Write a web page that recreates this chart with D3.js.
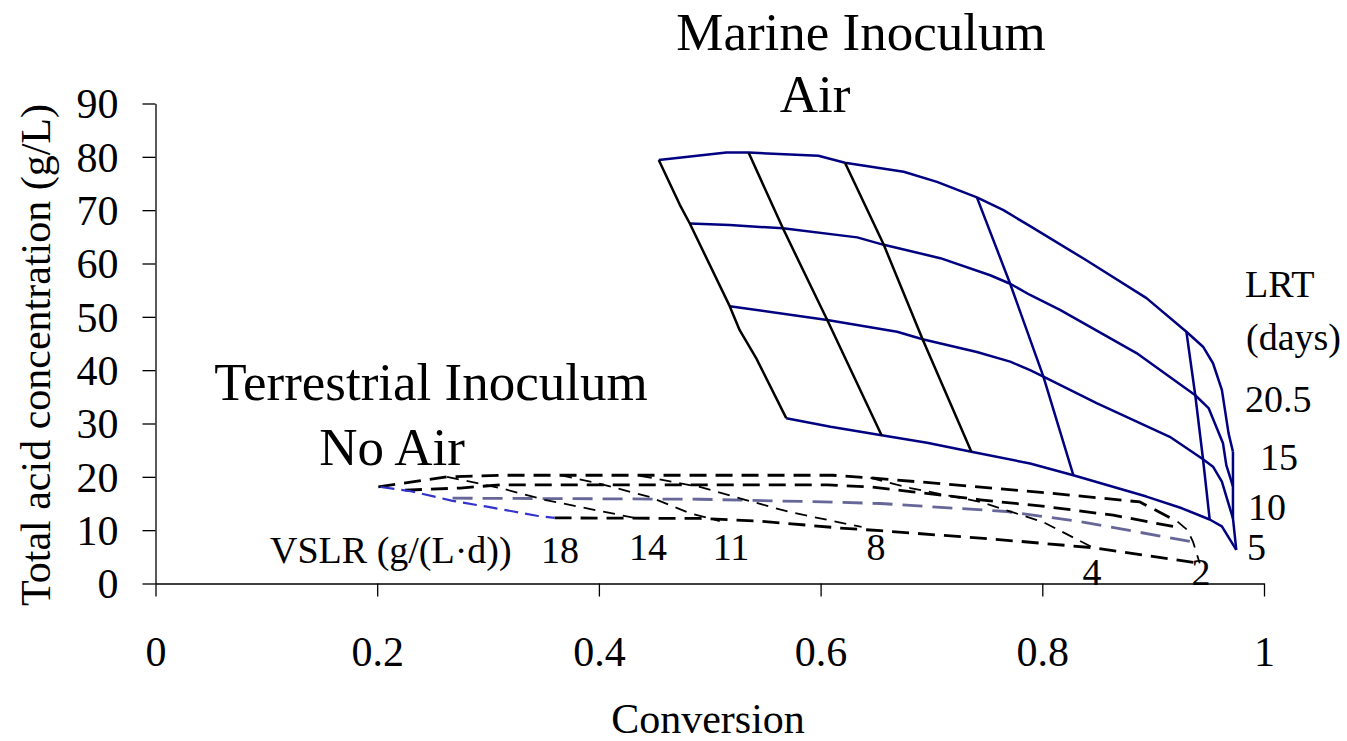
<!DOCTYPE html>
<html>
<head>
<meta charset="utf-8">
<script src="https://cdn.jsdelivr.net/npm/d3@7/dist/d3.min.js"></script>
<style>
  html, body { margin: 0; padding: 0; background: #fff; }
  svg text { font-family: "Liberation Serif", "Times New Roman", serif; fill: #000; }
</style>
</head>
<body>
<svg id="chart" width="1347" height="741"></svg>
<script>
// ---------- tick labels ----------
const xTicks = [0, 0.2, 0.4, 0.6, 0.8, 1];
const yTicks = [0, 10, 20, 30, 40, 50, 60, 70, 80, 90];

// ---------- Marine inoculum, air: constant-LRT lines [conversion, acid g/L] ----------
const marineLRT205 = [[0.454,79.4],[0.515,80.8],[0.535,80.8],[0.598,80.2],[0.622,78.9],[0.675,77.2],[0.705,75.3],[0.741,72.4],[0.765,70.0],[0.789,67.0],[0.839,60.7],[0.894,53.5],[0.930,47.2],[0.945,44.4],[0.954,41.3],[0.962,36.3],[0.968,28.2],[0.972,24.7]];
const marineLRT15  = [[0.482,67.5],[0.518,67.2],[0.566,66.6],[0.633,64.9],[0.657,63.5],[0.708,61.0],[0.753,57.8],[0.771,56.2],[0.789,54.1],[0.816,51.3],[0.885,43.2],[0.938,35.3],[0.950,32.9],[0.963,26.3],[0.966,22.2],[0.972,18.2]];
const marineLRT10  = [[0.518,52.0],[0.606,49.4],[0.669,47.2],[0.692,45.8],[0.741,43.4],[0.771,41.6],[0.789,40.0],[0.801,38.8],[0.849,33.8],[0.915,27.5],[0.945,23.3],[0.954,21.9],[0.962,19.1],[0.972,12.2]];
const marineLRT5   = [[0.569,31.0],[0.609,29.4],[0.655,27.8],[0.696,26.4],[0.736,24.7],[0.789,22.5],[0.828,20.3],[0.894,16.3],[0.926,14.1],[0.951,12.0],[0.962,10.7],[0.975,6.3]];
// constant-VSLR lines
const marineVSLR1 = [[0.454,79.4],[0.473,71.0],[0.482,67.5],[0.518,52.0],[0.527,47.5],[0.542,42.2],[0.569,31.0]];
const marineVSLR2 = [[0.535,80.8],[0.566,66.6],[0.592,55.4],[0.606,49.4],[0.655,27.8]];
const marineVSLR3 = [[0.622,78.9],[0.657,63.5],[0.692,45.8],[0.736,24.7]];
const marineVSLR4 = [[0.741,72.4],[0.771,56.2],[0.801,38.8],[0.828,20.3]];
const marineVSLR5 = [[0.930,47.2],[0.938,35.3],[0.945,23.3],[0.951,12.0]];
const marineVSLR6 = [[0.972,24.7],[0.972,18.2],[0.972,12.2],[0.975,6.3]];

// ---------- Terrestrial inoculum, no air ----------
const terrLRT205 = [[0.201,18.1],[0.263,20.0],[0.314,20.3],[0.611,20.3],[0.645,19.8],[0.692,19.0],[0.804,17.0],[0.888,15.3],[0.922,11.6]];
const terrLRT15  = [[0.225,17.5],[0.275,17.9],[0.311,18.5],[0.606,18.5],[0.645,18.1],[0.683,17.2],[0.744,15.7],[0.804,14.4],[0.864,12.8],[0.926,10.4]];
const terrLRT10  = [[0.268,16.0],[0.491,15.8],[0.602,15.3],[0.654,15.0],[0.768,13.5],[0.834,11.6],[0.936,7.8]];
const terrLRT5   = [[0.360,12.3],[0.491,12.2],[0.545,11.7],[0.618,10.4],[0.654,9.9],[0.744,8.5],[0.780,7.9],[0.846,6.7],[0.942,3.8]];
const terrVSLR18 = [[0.203,18.1],[0.230,17.3],[0.239,16.9],[0.268,15.5],[0.299,14.4],[0.323,13.5],[0.344,12.7],[0.360,12.3]];
const terrVSLR14 = [[0.263,20.0],[0.311,17.9],[0.351,15.7],[0.401,13.6],[0.437,12.1]];
const terrVSLR11 = [[0.365,20.3],[0.401,18.7],[0.446,16.2],[0.482,13.2],[0.509,11.7]];
const terrVSLR8  = [[0.437,20.2],[0.491,18.1],[0.532,15.7],[0.572,13.4],[0.637,10.6]];
const terrVSLR4  = [[0.645,19.8],[0.681,17.9],[0.744,15.3],[0.801,11.5],[0.846,6.7]];
const terrVSLR2  = [[0.922,11.6],[0.931,10.0],[0.936,7.8],[0.942,3.8]];

// ---------- annotation labels ----------
const lrtLabels  = ["20.5", "15", "10", "5"];
const vslrLabels = ["18", "14", "11", "8", "4", "2"];

// ---------- drawing ----------
const svg = d3.select("#chart");
const x = d3.scaleLinear().domain([0, 1]).range([155.5, 1264]);
const y = d3.scaleLinear().domain([0, 90]).range([583.5, 103.5]);
const line = d3.line().x(d => x(d[0])).y(d => y(d[1]));

const FONT = 42;

// axes
const xAxis = svg.append("g").attr("transform", `translate(0,${y(0)})`)
  .call(d3.axisBottom(x).tickValues(xTicks).tickSize(13).tickSizeOuter(0).tickFormat(d => d3.format("")(d)));
xAxis.selectAll("text").attr("y", 82.5).attr("dy", 0).style("font-size", FONT + "px");
const yAxis = svg.append("g").attr("transform", `translate(${x(0)},0)`)
  .call(d3.axisLeft(y).tickValues(yTicks).tickSize(13).tickSizeOuter(0));
yAxis.selectAll("text").attr("x", -37).attr("dy", "0.34em").style("font-size", FONT + "px");
svg.selectAll(".domain, .tick line").attr("stroke", "#000").attr("stroke-width", 1.3);

// axis titles
svg.append("text").attr("x", 708).attr("y", 733).attr("text-anchor", "middle")
  .style("font-size", FONT + "px").text("Conversion");
svg.append("text").attr("transform", "translate(50,355) rotate(-90)").attr("text-anchor", "middle")
  .style("font-size", FONT + "px").text("Total acid concentration (g/L)");

// marine mesh
const NAVY = "#000080";
const marine = [
  [marineLRT205, NAVY], [marineLRT15, NAVY], [marineLRT10, NAVY], [marineLRT5, NAVY],
  [marineVSLR1, "#000"], [marineVSLR2, "#000"], [marineVSLR3, "#000"],
  [marineVSLR4, NAVY], [marineVSLR5, NAVY], [marineVSLR6, NAVY]
];
marine.forEach(([d, c]) => {
  svg.append("path").datum(d).attr("d", line).attr("fill", "none")
    .attr("stroke", c).attr("stroke-width", 2.5).attr("stroke-linejoin", "round");
});

// terrestrial mesh (dashed)
const terr = [
  [terrLRT205, "#000", 2.8, "17,9"],
  [terrLRT15, "#000", 2.8, "17,9"],
  [terrLRT10, "#666699", 2.8, "20,10"],
  [terrLRT5, "#000", 2.8, "17,9"],
  [terrVSLR18, "#3333cc", 2.2, "14,7"],
  [terrVSLR14, "#000", 1.8, "12,8"],
  [terrVSLR11, "#000", 1.8, "12,8"],
  [terrVSLR8, "#000", 1.8, "12,8"],
  [terrVSLR4, "#000", 1.8, "12,8"],
  [terrVSLR2, "#000", 1.8, "12,8"]
];
terr.forEach(([d, c, w, dash]) => {
  svg.append("path").datum(d).attr("d", line).attr("fill", "none")
    .attr("stroke", c).attr("stroke-width", w).attr("stroke-dasharray", dash);
});

// titles
const big = 53;
svg.append("text").attr("x", 861).attr("y", 50).attr("text-anchor", "middle").style("font-size", big + "px").text("Marine Inoculum");
svg.append("text").attr("x", 815).attr("y", 112).attr("text-anchor", "middle").style("font-size", big + "px").text("Air");
svg.append("text").attr("x", 431).attr("y", 400).attr("text-anchor", "middle").style("font-size", big + "px").text("Terrestrial Inoculum");
svg.append("text").attr("x", 392).attr("y", 465).attr("text-anchor", "middle").style("font-size", big + "px").text("No Air");

// LRT labels
const small = 38;
svg.append("text").attr("x", 1245).attr("y", 297).style("font-size", small + "px").text("LRT");
svg.append("text").attr("x", 1246).attr("y", 350).style("font-size", small + "px").text("(days)");
const lrtPos = [[1245, 412], [1260, 470], [1248, 520], [1247, 560]];
lrtLabels.forEach((t, i) => {
  svg.append("text").attr("x", lrtPos[i][0]).attr("y", lrtPos[i][1]).style("font-size", small + "px").text(t);
});

// VSLR labels
svg.append("text").attr("x", 270).attr("y", 563).style("font-size", small + "px").text("VSLR (g/(L\u00B7d))");
const vslrPos = [[560, 563], [648, 560], [731, 560], [876, 560], [1092, 585], [1201, 585]];
vslrLabels.forEach((t, i) => {
  svg.append("text").attr("x", vslrPos[i][0]).attr("y", vslrPos[i][1]).attr("text-anchor", "middle")
    .style("font-size", small + "px").text(t);
});
</script>
</body>
</html>
